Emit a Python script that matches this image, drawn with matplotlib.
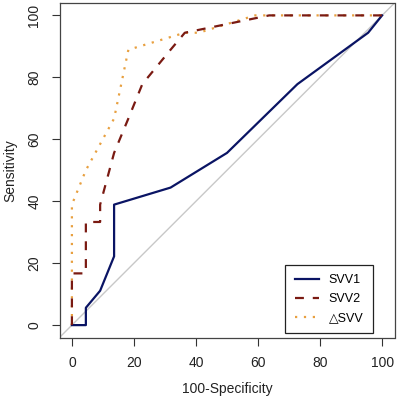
import matplotlib
matplotlib.use("Agg")
import matplotlib.pyplot as plt

plt.rcParams['font.family'] = ['Liberation Sans', 'DejaVu Sans']

# 100-Specificity (x) and Sensitivity (y) for each ROC curve
svv1_x = [0, 4.5, 4.5, 9.1, 13.6, 13.6, 31.8, 50.0, 72.7, 95.5, 100]
svv1_y = [0, 0, 5.6, 11.1, 22.2, 38.9, 44.4, 55.6, 77.8, 94.4, 100]

svv2_x = [0, 0, 4.5, 4.5, 9.1, 9.1, 13.6, 18.2, 22.7, 31.8, 36.4, 50.0, 63.6, 100]
svv2_y = [0, 16.7, 16.7, 33.3, 33.3, 38.9, 55.6, 66.7, 77.8, 88.9, 94.4, 97.2, 100, 100]

dsvv_x = [0, 0, 4.5, 13.6, 18.2, 36.4, 40.9, 59.1, 100]
dsvv_y = [0, 38.9, 50.0, 66.7, 88.9, 94.4, 94.4, 100, 100]

labels = ["SVV1", "SVV2", "\u25b3SVV"]
ticks = [0, 20, 40, 60, 80, 100]

W, H = 398, 400
fig = plt.figure(figsize=(W / 100, H / 100), dpi=100)
l, r, t, b = 59.5, 394.5, 3.0, 337.5
ax = fig.add_axes([l / W, (H - b) / H, (r - l) / W, (b - t) / H])

ax.axline((0, 0), (1, 1), color="#c8c8c8", lw=1.0, zorder=1)

ax.plot(svv1_x, svv1_y, color="#0a1464", lw=1.6, label=labels[0], zorder=3)
ax.plot(svv2_x, svv2_y, color="#7a1a12", lw=1.6, dashes=(4, 4), label=labels[1], zorder=3)
ax.plot(dsvv_x, dsvv_y, color="#e8a040", lw=1.6, dashes=(1, 3), label=labels[2], zorder=2)

ax.set_xlim(-4, 104)
ax.set_ylim(-4, 104)
ax.set_xticks(ticks)
ax.set_yticks(ticks)
ax.tick_params(axis='both', direction='out', length=6, width=0.8, labelsize=10,
               colors="#333333", labelcolor="#222222", pad=7)
for lab in ax.get_yticklabels():
    lab.set_rotation(90)
    lab.set_va('center')
for s in ax.spines.values():
    s.set_linewidth(0.9)
    s.set_color("#444444")

ax.set_xlabel("100-Specificity", fontsize=10, labelpad=9, color="#222222")
ax.set_ylabel("Sensitivity", fontsize=10, labelpad=7, color="#222222")

leg = ax.legend(loc="lower right", bbox_to_anchor=(0.935, 0.012), fontsize=9, frameon=True,
                fancybox=False, edgecolor="#222222", framealpha=1, handlelength=1.9,
                borderpad=0.75, labelspacing=0.55, handletextpad=0.8, borderaxespad=0)
leg.get_frame().set_linewidth(0.9)

fig.savefig("out.png", dpi=100)
